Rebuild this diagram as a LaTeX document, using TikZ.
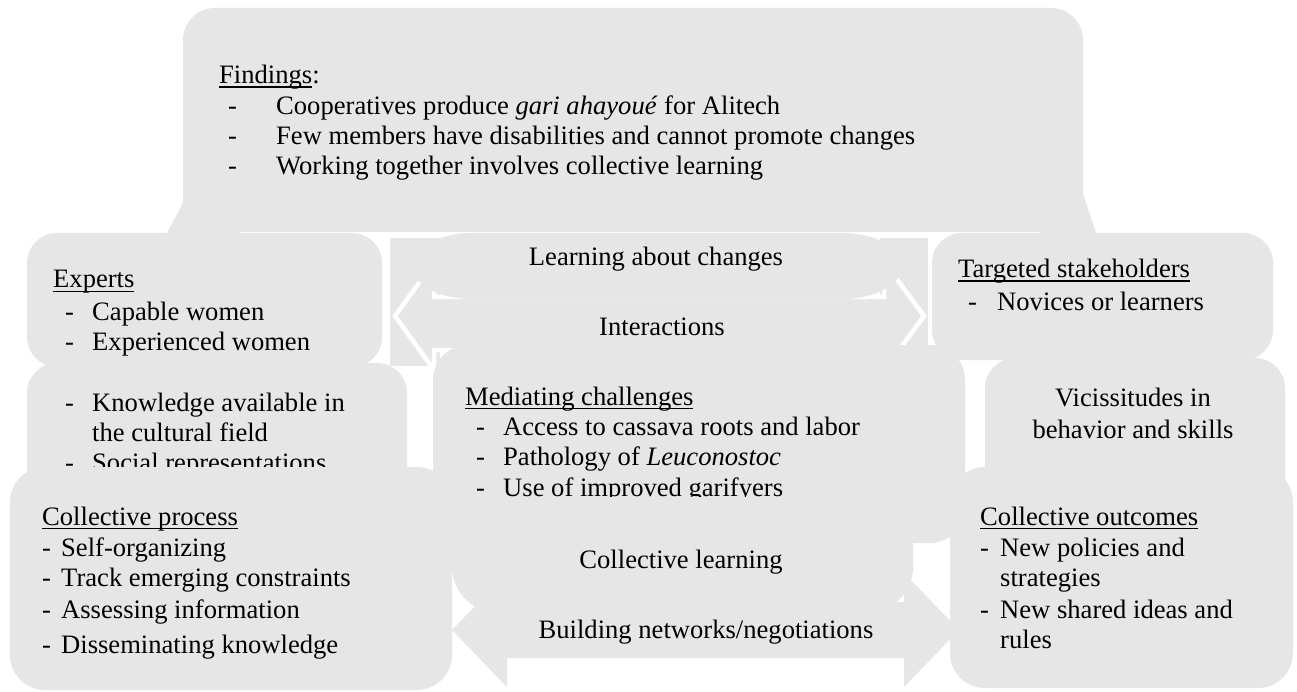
\documentclass[tikz,border=0pt]{standalone}
\usepackage{fontspec}
\setmainfont{Liberation Serif}
\definecolor{panel}{RGB}{230,230,230}
\newcommand{\bodyfont}{\fontsize{26.6pt}{30pt}\selectfont}
% underline with a fixed rule below the baseline
\newcommand{\hd}[1]{\setbox0\hbox{#1}\rlap{\rule[-4pt]{\wd0}{1.5pt}}\box0}
% dash followed by the item text at a fixed indent
\newcommand{\itm}[2]{\makebox[#1][l]{-}#2}
\begin{document}
\begin{tikzpicture}[x=1pt,y=-1pt,
  panelbox/.style={fill=panel, draw=none, rounded corners=#1, inner sep=0pt,
                   outer sep=0pt, anchor=north west},
  panelbox/.default=30pt,
  ln/.style={anchor=base west, inner sep=0pt, font=\bodyfont},
  mid/.style={anchor=base, inner sep=0pt, font=\bodyfont},
  blockarrow/.style={fill=panel, draw=none},
  outlinedarrow/.style={fill=panel, draw=white, line width=4.5pt, line join=miter}]

\fill[white] (0,0) rectangle (1297,692);
\useasboundingbox (0,0) rectangle (1297,692);

% arrow flares below the findings panel
\fill[blockarrow] (190,190) -- (167,233) -- (240,233) -- cycle;
\fill[blockarrow] (1080,185) -- (1096,233) -- (1040,233) -- cycle;

% findings panel
\node[panelbox=32pt, minimum width=900pt, minimum height=224pt] (findings) at (183,8) {};

% arrow bodies lying behind the interactions heads
\fill[blockarrow] (390,238) -- (440,238) -- (440,366) -- (390,366) -- cycle;
\fill[blockarrow] (880,238) -- (928,238) -- (928,366) -- (880,366) -- cycle;

% interactions: double-headed block arrow
\path[outlinedarrow] (395,316) -- (434,262) -- (434,297) -- (884,297) -- (884,262)
  -- (924,316) -- (884,370) -- (884,350) -- (434,350) -- (434,370) -- cycle;

% learning about changes: capsule
\fill[panel] (472,233) -- (842,233)
  arc[start angle=-90, end angle=90, x radius=60, y radius=33]
  -- (472,299) arc[start angle=90, end angle=270, x radius=60, y radius=33] -- cycle;

% side panels
\node[panelbox, minimum width=355pt, minimum height=134pt] (experts) at (27,233) {};
\node[panelbox, minimum width=341pt, minimum height=127pt] (targeted) at (932,233) {};
\node[panelbox, minimum width=380pt, minimum height=167pt] (knowledge) at (27,363) {};
\node[panelbox, minimum width=300pt, minimum height=192pt] (vicis) at (985,358) {};
\node[panelbox=35pt, minimum width=532pt, minimum height=198pt] (mediating) at (433,345) {};

% texts partly covered by the panels drawn later
\node[ln] (kn1) at (65,411) {\itm{27pt}{Knowledge available in}};
\node[ln] (kn2) at (92,441) {the cultural field};
\node[ln] (kn3) at (65,471) {\itm{27pt}{Social representations}};

\node[ln] (medh) at (465,405) {\hd{Mediating challenges}};
\node[ln] (med1) at (476,435) {\itm{27pt}{Access to cassava roots and labor}};
\node[ln] (med2) at (476,465) {\itm{27pt}{Pathology of \textit{Leuconostoc}}};
\node[ln] (med3) at (476,496) {\itm{27pt}{Use of improved garifyers}};

% building networks: double-headed block arrow
\fill[blockarrow] (452,630) -- (507,573) -- (507,602) -- (904,602) -- (904,573)
  -- (959,630) -- (904,687) -- (904,658) -- (507,658) -- (507,687) -- cycle;

% collective learning panel
\node[panelbox=45pt, minimum width=461pt, minimum height=115pt] (clearn) at (452,497) {};

% bottom panels
\node[panelbox=35pt, minimum width=442pt, minimum height=223pt] (cprocess) at (10,467) {};
\node[panelbox=35pt, minimum width=343pt, minimum height=221pt] (coutcome) at (950,467) {};

% findings text
\node[ln] (fh) at (219,84) {\hd{Findings}:};
\node[ln] (f1) at (228,115) {\itm{48pt}{Cooperatives produce \textit{gari ahayoué} for Alitech}};
\node[ln] (f2) at (228,145) {\itm{48pt}{Few members have disabilities and cannot promote changes}};
\node[ln] (f3) at (228,175) {\itm{48pt}{Working together involves collective learning}};

% experts text
\node[ln] (eh) at (53,288) {\hd{Experts}};
\node[ln] (e1) at (65,320) {\itm{27pt}{Capable women}};
\node[ln] (e2) at (65,350) {\itm{27pt}{Experienced women}};

% centre labels
\node[mid] (lac) at (656,266) {Learning about changes};
\node[mid] (inter) at (662,335) {Interactions};
\node[mid] (cl) at (681,568) {Collective learning};
\node[mid] (bn) at (706,638) {Building networks/negotiations};

% targeted stakeholders text
\node[ln] (th) at (958,278) {\hd{Targeted stakeholders}};
\node[ln] (t1) at (968,310) {\itm{29pt}{Novices or learners}};

% vicissitudes text
\node[mid] (v1) at (1133,406) {Vicissitudes in};
\node[mid] (v2) at (1133,438) {behavior and skills};

% collective process text
\node[ln] (ph) at (42,525) {\hd{Collective process}};
\node[ln] (p1) at (42,556) {\itm{19pt}{Self-organizing}};
\node[ln] (p2) at (42,586) {\itm{19pt}{Track emerging constraints}};
\node[ln] (p3) at (42,618) {\itm{19pt}{Assessing information}};
\node[ln] (p4) at (42,653) {\itm{19pt}{Disseminating knowledge}};

% collective outcomes text
\node[ln] (oh) at (980,525) {\hd{Collective outcomes}};
\node[ln] (o1) at (980,556) {\itm{20pt}{New policies and}};
\node[ln] (o2) at (1000,586) {strategies};
\node[ln] (o3) at (980,618) {\itm{20pt}{New shared ideas and}};
\node[ln] (o4) at (1000,648) {rules};
\end{tikzpicture}
\end{document}
